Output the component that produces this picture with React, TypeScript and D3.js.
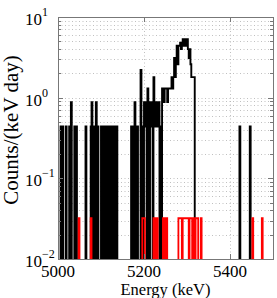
import { useEffect, useRef } from "react";
import * as d3 from "d3";

const W = 277;
const H = 298;

const xDomain: [number, number] = [5000, 5500];
const yDomain: [number, number] = [1e-2, 1e1];
const xTicks = [5000, 5200, 5400];
const yTickExps = [-2, -1, 0, 1];
const binWidth = 2; // keV

// black histogram: bin start (keV) -> counts/(keV day)
const blackEnergy = [
  5006, 5010, 5018, 5026, 5030, 5038, 5042,
  5064,
  5076, 5078, 5082, 5086, 5088, 5092, 5100, 5104, 5110, 5116, 5122, 5126, 5132,
  5136,
  5170, 5174, 5178, 5180, 5184, 5192, 5196, 5200, 5202, 5204, 5208, 5210, 5214,
  5216, 5218, 5222, 5224, 5226, 5228, 5230, 5232, 5234, 5238, 5242, 5244, 5246,
  5248, 5250, 5252, 5254, 5256, 5258, 5260, 5262, 5264, 5266, 5268, 5270, 5272,
  5274, 5276, 5278, 5280, 5282, 5284, 5286, 5288, 5290, 5292, 5294, 5296, 5298,
  5300, 5302, 5304, 5306, 5308, 5310, 5312, 5314, 5316,
  5422, 5446,
];
const blackRate = [
  0.44, 0.44, 0.44, 0.44, 0.88, 0.44, 0.44,
  0.44,
  0.44, 0.88, 0.44, 0.44, 0.88, 0.44, 0.44, 0.44, 0.44, 0.44, 0.44, 0.44, 0.44,
  0.44,
  0.44, 0.44, 0.88, 0.44, 0.44, 2.2, 0.44, 0.88, 0.44, 0.88, 1.3, 0.44, 0.88,
  0.88, 0.44, 1.8, 0.88, 0.44, 0.88, 0.88, 0.44, 0.88, 0.44, 1.3, 1.3, 0.88,
  1.3, 1.3, 1.3, 0.88, 1.3, 1.3, 1.3, 1.3, 1.8, 1.3, 1.8, 3.1, 1.8,
  3.1, 4.4, 2.6, 4.4, 4.4, 4.8, 4.0, 4.8, 5.3, 4.4, 5.3, 5.3, 4.4,
  5.3, 4.0, 3.1, 4.0, 2.6, 1.8, 1.8, 1.8, 1.8,
  0.44, 0.44,
];

// red histogram
const redEnergy = [
  5048, 5076, 5196, 5198, 5200, 5222, 5224, 5228, 5230, 5244, 5246, 5250, 5252,
  5280, 5282, 5284, 5286, 5290, 5292, 5294, 5296, 5298, 5300, 5302, 5306, 5308,
  5310, 5314, 5316, 5320, 5322, 5324, 5332, 5452, 5474,
];
const redRate = [
  0.032, 0.032, 0.032, 0.032, 0.032, 0.032, 0.032, 0.032, 0.032, 0.032, 0.032,
  0.032, 0.032, 0.032, 0.032, 0.032, 0.032, 0.032, 0.032, 0.032, 0.032, 0.032,
  0.032, 0.032, 0.032, 0.032, 0.032, 0.032, 0.032, 0.032, 0.032, 0.032, 0.032,
  0.032, 0.032,
];

function steps(energy: number[], rate: number[]) {
  const lookup = new Map(energy.map((e, i) => [e, rate[i]]));
  const pts = d3
    .range(xDomain[0], xDomain[1], binWidth)
    .map((e) => ({ x: e, y: lookup.get(e) ?? 0 }));
  pts.push({ x: xDomain[1], y: pts[pts.length - 1].y });
  return pts;
}

export default function App() {
  const ref = useRef<SVGSVGElement | null>(null);

  useEffect(() => {
    const svg = d3.select(ref.current);
    svg.selectAll("*").remove();

    const margin = { top: 17, right: 4, bottom: 39, left: 58 };
    const x = d3
      .scaleLinear()
      .domain(xDomain)
      .range([margin.left, W - margin.right]);
    const y = d3
      .scaleLog()
      .domain(yDomain)
      .range([H - margin.bottom, margin.top]);
    const [x0, x1] = x.range();
    const [y0, y1] = y.range();

    svg.append("rect").attr("width", W).attr("height", H).attr("fill", "#fff");

    // grid
    const minor: number[] = [];
    for (let k = -2; k < 1; k++)
      for (let m = 1; m < 10; m++) minor.push(m * Math.pow(10, k));
    minor.push(10);
    const grid = svg
      .append("g")
      .attr("stroke", "#b0b0b0")
      .attr("stroke-width", 0.8)
      .attr("stroke-dasharray", "1 2.5");
    grid
      .selectAll("line.h")
      .data(minor.slice(1, -1))
      .enter()
      .append("line")
      .attr("x1", x0)
      .attr("x2", x1)
      .attr("y1", (d) => Math.round(y(d)) + 0.5)
      .attr("y2", (d) => Math.round(y(d)) + 0.5);
    grid
      .selectAll("line.v")
      .data(xTicks.slice(1))
      .enter()
      .append("line")
      .attr("x1", (d) => Math.round(x(d)) + 0.5)
      .attr("x2", (d) => Math.round(x(d)) + 0.5)
      .attr("y1", y1)
      .attr("y2", y0);

    // histograms
    svg
      .append("clipPath")
      .attr("id", "plot-clip")
      .append("rect")
      .attr("x", x0)
      .attr("y", y1)
      .attr("width", x1 - x0)
      .attr("height", y0 - y1);

    const line = d3
      .line<{ x: number; y: number }>()
      .x((d) => x(d.x))
      .y((d) => (d.y > 0 ? y(d.y) : y(1e-4)))
      .curve(d3.curveStepAfter);

    const plot = svg.append("g").attr("clip-path", "url(#plot-clip)");
    plot
      .append("path")
      .datum(steps(blackEnergy, blackRate))
      .attr("fill", "none")
      .attr("stroke", "#000")
      .attr("stroke-width", 1.9)
      .attr("d", line);
    plot
      .append("path")
      .datum(steps(redEnergy, redRate))
      .attr("fill", "none")
      .attr("stroke", "#ff0000")
      .attr("stroke-width", 1.8)
      .attr("d", line);

    // ticks
    const ticks = svg.append("g").attr("stroke", "#777").attr("stroke-width", 1);
    minor.forEach((v) => {
      const yy = Math.round(y(v)) + 0.5;
      const len = Number.isInteger(Math.log10(v)) ? 5 : 3;
      ticks.append("line").attr("x1", x0).attr("x2", x0 + len).attr("y1", yy).attr("y2", yy);
      ticks.append("line").attr("x1", x1 - len).attr("x2", x1).attr("y1", yy).attr("y2", yy);
    });
    xTicks.forEach((v) => {
      const xx = Math.round(x(v)) + 0.5;
      ticks.append("line").attr("x1", xx).attr("x2", xx).attr("y1", y0).attr("y2", y0 - 5);
      ticks.append("line").attr("x1", xx).attr("x2", xx).attr("y1", y1).attr("y2", y1 + 5);
    });

    // frame
    svg
      .append("rect")
      .attr("x", Math.round(x0) + 0.5)
      .attr("y", Math.round(y1) + 0.5)
      .attr("width", Math.round(x1 - x0))
      .attr("height", Math.round(y0 - y1))
      .attr("fill", "none")
      .attr("stroke", "#777")
      .attr("stroke-width", 1);

    const font = "'Liberation Serif', 'Times New Roman', serif";

    // x tick labels
    svg
      .append("g")
      .selectAll("text")
      .data(xTicks)
      .enter()
      .append("text")
      .attr("x", (d) => x(d))
      .attr("y", y0 + 17.5)
      .attr("text-anchor", "middle")
      .attr("font-family", font)
      .attr("font-size", 17)
      .attr("fill", "#000")
      .text((d) => String(d));

    // y tick labels 10^k
    yTickExps.forEach((k) => {
      const yy = y(Math.pow(10, k));
      svg
        .append("text")
        .attr("x", 25)
        .attr("y", yy + 8)
        .attr("font-family", font)
        .attr("font-size", 17)
        .attr("fill", "#000")
        .text("10");
      svg
        .append("text")
        .attr("x", 42)
        .attr("y", yy - 1)
        .attr("font-family", font)
        .attr("font-size", 12)
        .attr("fill", "#000")
        .text(k < 0 ? `\u2212${-k}` : String(k));
    });

    // axis labels
    svg
      .append("text")
      .attr("x", (x0 + x1) / 2)
      .attr("y", 295)
      .attr("text-anchor", "middle")
      .attr("font-family", font)
      .attr("font-size", 16.5)
      .attr("fill", "#000")
      .text("Energy (keV)");
    svg
      .append("text")
      .attr("transform", `translate(18, ${(y0 + y1) / 2 - 8}) rotate(-90)`)
      .attr("text-anchor", "middle")
      .attr("font-family", font)
      .attr("font-size", 21)
      .attr("fill", "#000")
      .text("Counts/(keV day)");
  }, []);

  return (
    <svg
      ref={ref}
      width={W}
      height={H}
      style={{ position: "absolute", left: 0, top: 0, display: "block" }}
    />
  );
}
